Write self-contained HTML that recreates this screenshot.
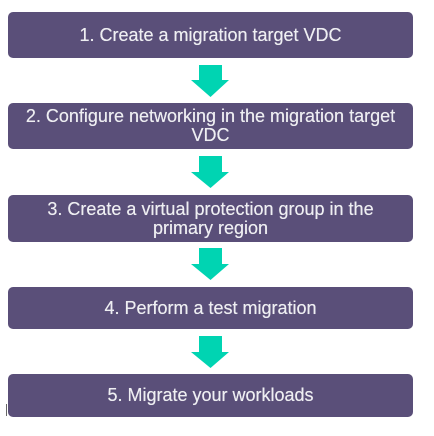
<!DOCTYPE html>
<html><head><style>
html,body{margin:0;padding:0;background:#fff;width:434px;height:436px;overflow:hidden;position:relative}
.b{position:absolute;left:8px;width:405px;background:#5a4f79;border-radius:5px;color:#eeeef2;font-family:"Liberation Sans",sans-serif;font-size:18px;line-height:19px;text-align:center;display:flex;align-items:center;justify-content:center;box-sizing:border-box;padding:0 4px;white-space:nowrap;text-shadow:0 0 0.4px #eeeef2}
svg{position:absolute;left:0;top:0}
</style></head><body>
<div class="b" style="top:12px;height:46px">1. Create a migration target VDC</div>
<div class="b" style="top:103px;height:46px">2. Configure networking in the migration target<br>VDC</div>
<div class="b" style="top:195px;height:47px">3. Create a virtual protection group in the<br>primary region</div>
<div class="b" style="top:287px;height:42px">4. Perform a test migration</div>
<div class="b" style="top:374px;height:43px">5. Migrate your workloads</div>
<svg width="434" height="436" fill="#00d4b2">
<polygon points="199,65 222,65 222,80 229,80 210.5,97 191,80 199,80"/>
<polygon points="199,156 222,156 222,172 229,172 210.5,188 191,172 199,172"/>
<polygon points="199,248 222,248 222,264 229,264 210.5,280 191,264 199,264"/>
<polygon points="199,336 222,336 222,352 229,352 210.5,368 191,352 199,352"/>
<rect x="6" y="404" width="1" height="12" fill="#666"/>
</svg>
</body></html>
